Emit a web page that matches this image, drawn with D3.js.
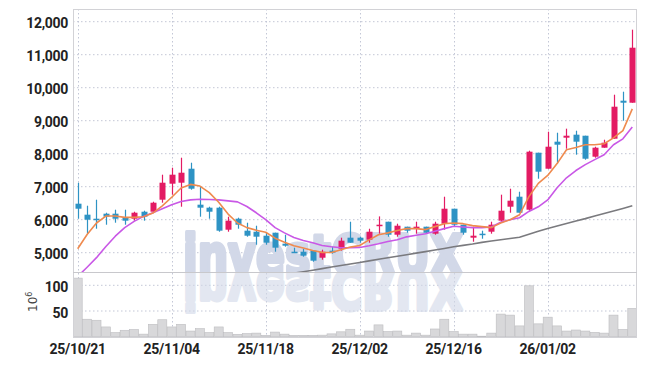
<!DOCTYPE html>
<html><head><meta charset="utf-8">
<script src="https://cdn.jsdelivr.net/npm/d3@7"></script>
<style>
html,body{margin:0;padding:0;background:#fff;}
svg{display:block;}
</style></head>
<body>
<svg id="chart" width="647" height="366"></svg>
<script>
const dates = ["2025-10-21","2025-10-22","2025-10-23","2025-10-24","2025-10-27","2025-10-28","2025-10-29","2025-10-30","2025-10-31",
"2025-11-03","2025-11-04","2025-11-05","2025-11-06","2025-11-07","2025-11-10","2025-11-11","2025-11-12","2025-11-13","2025-11-14",
"2025-11-17","2025-11-18","2025-11-19","2025-11-20","2025-11-21","2025-11-24","2025-11-25","2025-11-26","2025-11-27","2025-11-28",
"2025-12-01","2025-12-02","2025-12-03","2025-12-04","2025-12-05","2025-12-08","2025-12-09","2025-12-10","2025-12-11","2025-12-12",
"2025-12-15","2025-12-16","2025-12-17","2025-12-18","2025-12-19","2025-12-22","2025-12-23","2025-12-24","2025-12-26","2025-12-29",
"2025-12-30","2026-01-02","2026-01-05","2026-01-06","2026-01-07","2026-01-08","2026-01-09","2026-01-12","2026-01-13","2026-01-14","2026-01-15"];

const open  = [6485,6152,6030,6182,6182,6061,6030,6242,6242,6606,7091,7121,7545,6455,6364,6364,5697,6030,5667,5636,
               5515,5606,5273,5030,5030,5061,4848,5061,5121,5455,5455,5394,5818,5939,5545,5788,5727,5788,5576,5879,
               6333,5848,5455,5576,5636,5970,6394,6697,6303,8030,7545,8364,8485,8576,8545,7909,8182,8455,9606,9545];
const high  = [7121,6424,6606,6212,6303,6303,6242,6273,6545,7364,7576,7879,7727,7010,6394,6394,6091,6061,5909,5818,
               5606,5606,5545,5152,5121,5061,5091,5182,5455,5939,5485,5727,6100,5939,5879,5788,5939,5788,5939,6697,
               6333,5848,5788,5667,5939,6758,6939,6848,8091,8030,8667,8636,8758,8697,8545,8212,8424,9788,9879,11758];
const low   = [6030,5576,5727,5848,5909,5848,5970,5970,6212,6515,6758,6394,6909,6091,6030,5636,5636,5727,5485,5242,
               5242,5030,5182,5000,4879,4727,4788,4970,5061,5303,5303,5303,5576,5485,5485,5606,5576,5576,5545,5697,
               5788,5545,5333,5424,5576,5939,6212,6212,6273,7242,7545,7697,8152,7970,7818,7879,8182,8455,9000,9545];
const close = [6333,6000,6000,6091,6030,5970,6212,6091,6515,7121,7364,7424,6939,6364,6242,5667,5970,5848,5515,5485,
               5303,5152,5212,5000,4909,4758,5030,5000,5364,5303,5364,5636,5848,5545,5818,5667,5788,5606,5879,6333,
               5848,5606,5515,5545,5848,6273,6576,6212,8061,7455,8212,8273,8545,8364,7848,8182,8333,9424,9545,11212];

const ma5  = [5120,5550,5900,6110,6110,6070,6070,6090,6200,6420,6680,6960,7070,7020,6820,6530,6170,5900,5760,5680,
              5620,5440,5320,5210,5140,5065,5010,5005,5090,5170,5220,5390,5545,5600,5670,5730,5730,5700,5790,5880,
              5900,5880,5820,5790,5760,5900,6000,6150,6700,7100,7340,7700,8120,8190,8270,8270,8300,8480,8700,9360];
const ma20 = [4280,4560,4850,5190,5500,5760,5950,6100,6210,6330,6450,6550,6600,6620,6610,6600,6570,6540,6400,6210,
              6000,5760,5600,5460,5370,5300,5220,5180,5150,5150,5160,5210,5270,5340,5390,5480,5530,5575,5650,5730,
              5800,5780,5760,5760,5780,5920,6000,6060,6250,6390,6600,6970,7270,7490,7670,7820,7970,8270,8450,8810];
const ma60 = [null,null,null,null,null,null,null,null,null,null,null,null,null,null,null,null,null,null,null,null,
              null,null,null,4380,4425,4470,4517,4565,4611,4657,4705,4753,4799,4847,4893,4939,4987,5032,5080,5129,
              5180,5223,5263,5314,5357,5393,5432,5466,5557,5650,5735,5808,5884,5960,6032,6111,6187,6263,6341,6423];
const volume = [114,34,32,19,8,12.5,14,5,24,33,19,24,11,15.6,8,19,8,4.7,6,7,
                2.7,9,5,2.7,2.7,2.7,3,5.5,9.5,14.5,3,11,23,10,11,3,7,3,15,34,
                10,5,5,1,7,44,42,21,99,25,38,21,11,13,11,8.5,7,42,14,55];

const priceTicks = [5000,6000,7000,8000,9000,10000,11000,12000];
const volTicks = [50,100];
const xTickDates = ["2025-10-21","2025-11-04","2025-11-18","2025-12-02","2025-12-16","2026-01-02"];

const L = 73, R = 637, T = 9, MID = 272, B = 337;
const svg = d3.select("#chart");
const FONT = "'Liberation Sans Narrow','Roboto',sans-serif";

const x = d3.scaleBand().domain(dates).range([L, R]).paddingInner(0.35).paddingOuter(0.175);
const xv = d3.scaleBand().domain(dates).range([L, R]).paddingInner(0.04).paddingOuter(0.02);
const cx = d => x(d) + x.bandwidth()/2;
const y = d3.scaleLinear().domain([5000,12000]).range([252.7, 21.7]);
const yv = d3.scaleLinear().domain([0,100]).range([336.7, 285.3]);

const defs = svg.append("defs");
defs.append("clipPath").attr("id","cp").append("rect").attr("x",L).attr("y",T).attr("width",R-L).attr("height",MID-T);
defs.append("clipPath").attr("id","cv").append("rect").attr("x",L).attr("y",MID).attr("width",R-L).attr("height",B-MID);

const gridColor = "#c3c7d6";
svg.append("g").selectAll("line").data(priceTicks).join("line")
  .attr("x1",L).attr("x2",R).attr("y1",d=>y(d)).attr("y2",d=>y(d))
  .attr("stroke",gridColor).attr("stroke-dasharray","1.5,2.5");
svg.append("g").selectAll("line").data(volTicks).join("line")
  .attr("x1",L).attr("x2",R).attr("y1",d=>yv(d)).attr("y2",d=>yv(d))
  .attr("stroke",gridColor).attr("stroke-dasharray","1.5,2.5");
svg.append("g").selectAll("line").data(xTickDates).join("line")
  .attr("x1",d=>Math.round(cx(d))+0.5).attr("x2",d=>Math.round(cx(d))+0.5).attr("y1",T).attr("y2",B)
  .attr("stroke",gridColor).attr("stroke-dasharray","1.5,2.5");

// watermark (real text) + its reflection (a <use> copy)
const wm = svg.append("g").attr("clip-path","url(#cp)");
wm.append("text").attr("id","wmtext").attr("x",183).attr("y",274).attr("textLength",280).attr("lengthAdjust","spacingAndGlyphs")
  .attr("font-family","'DejaVu Sans', sans-serif").attr("font-weight","bold").attr("font-size",56)
  .attr("fill","#d2d8e8").attr("stroke","#d2d8e8").attr("stroke-width",4).attr("stroke-linejoin","round")
  .text("investCRUX");
const wm2 = svg.append("g").attr("clip-path","url(#cv)");
wm2.append("use").attr("href","#wmtext")
  .attr("transform","translate(0,544) scale(1,-1)").attr("opacity",0.6);

// volume bars
svg.append("g").attr("clip-path","url(#cv)").selectAll("rect").data(dates).join("rect")
  .attr("x",d=>xv(d)).attr("width",xv.bandwidth())
  .attr("y",(d,i)=>yv(volume[i])).attr("height",(d,i)=>yv(0)-yv(volume[i]))
  .attr("fill","#d8d8da").attr("stroke","#bdbdc0").attr("stroke-width",0.6);

// candles
const UP = "#e31b63", DOWN = "#2e93c4";
const cg = svg.append("g").attr("clip-path","url(#cp)");
const candle = cg.selectAll("g").data(dates).join("g");
candle.append("line")
  .attr("x1",d=>Math.round(cx(d))+0.5).attr("x2",d=>Math.round(cx(d))+0.5)
  .attr("y1",(d,i)=>y(high[i])).attr("y2",(d,i)=>y(low[i]))
  .attr("stroke",(d,i)=>close[i]>=open[i]?UP:DOWN).attr("stroke-width",1.2);
candle.append("rect")
  .attr("x",d=>Math.round(cx(d))+0.5-3).attr("width",6)
  .attr("y",(d,i)=>y(Math.max(open[i],close[i])))
  .attr("height",(d,i)=>Math.max(1.5, Math.abs(y(open[i])-y(close[i]))))
  .attr("fill",(d,i)=>close[i]>=open[i]?UP:DOWN);

function maLine(arr, color, w){
  const line = d3.line().defined(d=>d[1]!=null).x(d=>cx(d[0])).y(d=>y(d[1]));
  cg.append("path").datum(dates.map((d,i)=>[d,arr[i]]))
    .attr("d",line).attr("fill","none").attr("stroke",color).attr("stroke-width",w)
    .attr("stroke-linejoin","round");
}
maLine(ma60,"#7a7a7e",1.6);
maLine(ma20,"#c958e6",1.6);
maLine(ma5,"#ef8a4e",1.6);

svg.append("rect").attr("x",L+0.5).attr("y",T+0.5).attr("width",R-L-1).attr("height",B-T)
  .attr("fill","none").attr("stroke","#d2d2d6");
svg.append("line").attr("x1",L).attr("x2",R).attr("y1",MID+0.5).attr("y2",MID+0.5).attr("stroke","#c8c8cc");

svg.append("g").selectAll("text").data(priceTicks).join("text")
  .attr("x",68).attr("y",d=>y(d)+6.5).attr("text-anchor","end")
  .attr("font-family",FONT).attr("font-weight","bold").attr("font-size",14).attr("fill","#222")
  .attr("letter-spacing","-0.3")
  .text(d=>d3.format(",")(d));
svg.append("g").selectAll("text").data(volTicks).join("text")
  .attr("x",68).attr("y",d=>yv(d)+6.5).attr("text-anchor","end")
  .attr("font-family",FONT).attr("font-weight","bold").attr("font-size",14).attr("fill","#222")
  .attr("letter-spacing","-0.3")
  .text(d=>d);
const fmt = d3.timeFormat("%y/%m/%d"), parse = d3.timeParse("%Y-%m-%d");
svg.append("g").selectAll("text").data(xTickDates).join("text")
  .attr("x",d=>cx(d)).attr("y",354).attr("text-anchor","middle")
  .attr("font-family",FONT).attr("font-weight","bold").attr("font-size",14).attr("fill","#222")
  .attr("letter-spacing","-0.3")
  .text(d=>fmt(parse(d)));
const unit = svg.append("text").attr("transform","translate(37,312) rotate(-90)")
  .attr("font-family","'DejaVu Sans',sans-serif").attr("font-size",12).attr("fill","#444");
unit.append("tspan").text("10");
unit.append("tspan").attr("font-size",8).attr("dy",-5).text("6");
</script>
</body></html>
